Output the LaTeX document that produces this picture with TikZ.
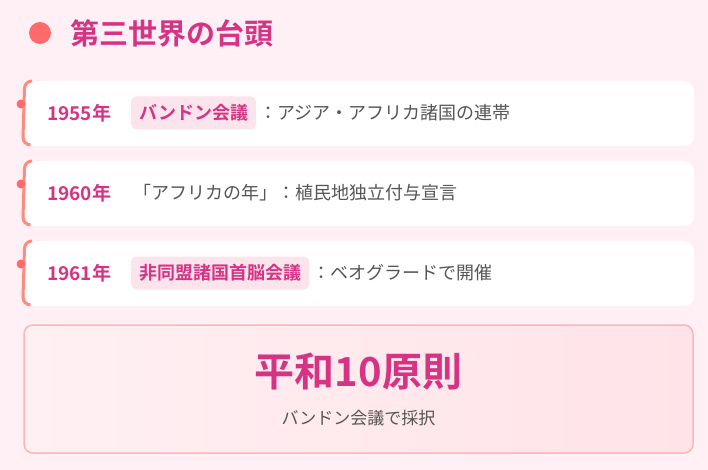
\documentclass[tikz,border=0pt]{standalone}
\usepackage{fontspec}
\setmainfont{Noto Sans CJK JP}[BoldFont={Noto Sans CJK JP Bold}]
\usetikzlibrary{positioning}
\definecolor{pagebg}{HTML}{FEF0F4}
\definecolor{accent}{HTML}{D63384}
\definecolor{dotred}{HTML}{FF6B6B}
\definecolor{leftbar}{HTML}{FF8A80}
\definecolor{tagbg}{HTML}{FCE4EC}
\definecolor{bodygray}{HTML}{555555}
\definecolor{boxline}{HTML}{FFB3BA}
\definecolor{boxA}{HTML}{FFF0F3}
\definecolor{boxB}{HTML}{FFE3E8}
\tikzset{
  card/.style={draw=none,fill=white,rounded corners=10pt,minimum width=671pt,minimum height=65pt,anchor=north west,inner sep=0pt},
  year/.style={anchor=west,font=\fontsize{19}{21}\selectfont\bfseries,text=accent,inner sep=0pt},
  tag/.style={anchor=west,fill=tagbg,rounded corners=5pt,font=\fontsize{18}{20}\selectfont\bfseries,text=accent,inner xsep=8pt,inner ysep=0pt,minimum height=33pt},
  desc/.style={anchor=west,font=\fontsize{18}{20}\selectfont,text=bodygray,inner sep=0pt},
  tldot/.style={circle,fill=dotred,inner sep=0pt,minimum size=9pt}
}
\begin{document}
\begin{tikzpicture}[x=1pt,y=-1pt]
\fill[pagebg] (0,0) rectangle (708,470);
\useasboundingbox (0,0) rectangle (708,470);

% header
\node[circle,fill=dotred,inner sep=0pt,minimum size=22pt] (hdot) at (40,33) {};
\node[anchor=west,inner sep=0pt,font=\fontsize{29}{32}\selectfont\bfseries,text=accent] (title) at (70,33) {第三世界の台頭};

% timeline cards
\node[card] (c1) at (23,81) {};
\node[card] (c2) at (23,161) {};
\node[card] (c3) at (23,241) {};
\foreach \c in {c1,c2,c3}{
  \draw[leftbar,line width=3pt] ([xshift=9pt]\c.north west) arc (90:180:7.5pt) -- ([yshift=9pt]\c.south west) arc (180:270:7.5pt);
  \node[tldot] at ([xshift=-2pt,yshift=-23pt]\c.north west) {};
}

\node[year] (y1) at (47,113) {1955年};
\node[tag] (t1) at (131,113) {バンドン会議};
\node[desc,right=3pt of t1] (d1) {：アジア・アフリカ諸国の連帯};

\node[year] (y2) at (47,193) {1960年};
\node[desc] (d2) at (133,193) {「アフリカの年」：植民地独立付与宣言};

\node[year] (y3) at (47,273) {1961年};
\node[tag] (t3) at (131,273) {非同盟諸国首脳会議};
\node[desc,right=3pt of t3] (d3) {：ベオグラードで開催};

% summary box
\shade[left color=boxA,right color=boxB,rounded corners=9pt] (24,325) rectangle (693,453);
\draw[boxline,line width=1.5pt,rounded corners=9pt] (24,325) rectangle (693,453);
\node[font=\fontsize{40}{44}\selectfont\bfseries,text=accent,inner sep=0pt] (peace) at (358.5,372) {平和10原則};
\node[font=\fontsize{17}{20}\selectfont,text=bodygray,inner sep=0pt] (adopt) at (358.5,418) {バンドン会議で採択};
\end{tikzpicture}
\end{document}
